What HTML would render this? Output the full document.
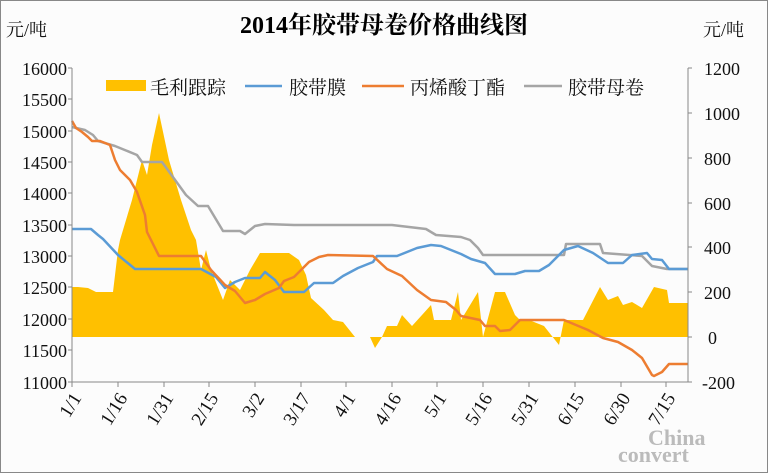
<!DOCTYPE html>
<html><head><meta charset="utf-8"><style>
body{margin:0;background:#fff}
svg{display:block}
text{font-family:"Liberation Serif","Noto Serif CJK SC",serif}
</style></head><body>
<svg width="768" height="473" viewBox="0 0 768 473" xmlns="http://www.w3.org/2000/svg">
<rect x="0.5" y="0.5" width="767" height="472" fill="#fcfcfc" stroke="#888"/>
<text x="384" y="33" font-size="24" font-weight="bold" text-anchor="middle" fill="#000">2014年胶带母卷价格曲线图</text>
<text x="6" y="36" font-size="18" fill="#111">元/吨</text>
<text x="703" y="36" font-size="18" fill="#111">元/吨</text>
<g font-size="18" fill="#111" text-anchor="end">
<text x="67" y="75">16000</text><text x="67" y="106">15500</text><text x="67" y="138">15000</text><text x="67" y="169">14500</text><text x="67" y="200">14000</text><text x="67" y="232">13500</text><text x="67" y="263">13000</text><text x="67" y="294">12500</text><text x="67" y="326">12000</text><text x="67" y="357">11500</text><text x="67" y="389">11000</text>
</g>
<g font-size="18" fill="#111">
<text x="704" y="75">1200</text><text x="704" y="120">1000</text><text x="704" y="165">800</text><text x="704" y="210">600</text><text x="704" y="254">400</text><text x="704" y="299">200</text><text x="708" y="344">0</text><text x="702" y="389">-200</text>
</g>
<polygon fill="#FFC000" points="72,337 72,287 78,287 88,288 96,292 113,292 118,250 120,240 132,200 142,160 147,175 152,145 159,113 169,160 181,200 191,230 196,240 201,270 206,250 211,270 223,300 230,280 240,290 250,270 260,253 275,253 289,253 299,260 306,275 311,298 324,310 333,320 343,322 355,337 370,337 375,348 382,337 387,326 397,326 402,315 412,326 422,315 431,305 434,320 451,320 458,292 461,320 478,292 483,337 495,292 505,292 515,315 520,320 529,320 544,326 559,345 564,320 583,320 600,287 608,300 618,296 623,305 632,302 642,308 654,287 667,290 669,303 688,303 688,337"/>
<g fill="none" stroke-width="2.5" stroke-linejoin="round">
<polyline stroke="#A5A5A5" points="72,127 85,130 93,135 98,141 115,146 137,155 142,162 162,162 186,195 198,206 208,206 223,231 240,231 245,234 255,226 265,224 294,225 392,225 426,229 436,235 461,237 470,240 478,248 483,255 564,255 566,244 600,244 603,253 642,256 652,266 667,269 688,269"/>
<polyline stroke="#5B9BD5" points="72,229 91,229 98,235 103,239 118,255 135,269 201,269 216,277 225,288 235,282 245,278 260,278 265,272 275,280 284,292 304,292 314,283 333,283 343,276 358,268 373,262 377,256 397,256 417,248 431,245 441,246 461,254 471,259 485,263 495,274 515,274 525,271 539,271 549,265 564,250 578,246 593,253 608,263 623,263 632,255 647,253 652,259 662,260 669,269 688,269"/>
<polyline stroke="#ED7D31" points="72,121 76,128 82,132 88,137 92,141 100,141 110,145 115,160 120,170 130,180 137,192 145,215 147,232 159,256 201,256 211,270 225,285 235,291 245,303 255,300 265,294 279,288 284,281 294,277 309,262 319,257 328,255 373,256 387,269 402,276 417,290 431,300 446,302 456,310 461,316 480,320 485,326 495,326 500,331 510,330 520,320 564,320 588,330 603,338 618,342 632,350 642,358 652,375 654,376 662,372 669,364 688,364"/>
</g>
<g stroke="#888" stroke-width="1">
<line x1="72" y1="68" x2="72" y2="382"/><line x1="688" y1="68" x2="688" y2="382"/><line x1="72" y1="382" x2="688" y2="382"/>
<path d="M68 68h4M68 99h4M68 131h4M68 162h4M68 193h4M68 225h4M68 256h4M68 287h4M68 319h4M68 350h4M68 382h4M688 68h4M688 113h4M688 158h4M688 203h4M688 247h4M688 292h4M688 337h4M688 382h4"/>
<path d="M72 382v5M118 382v5M164 382v5M209 382v5M255 382v5M301 382v5M346 382v5M392 382v5M437 382v5M483 382v5M529 382v5M575 382v5M621 382v5M666 382v5"/>
</g>
<g font-size="19" fill="#111" text-anchor="end">
<text transform="translate(82,398) rotate(-58)">1/1</text>
<text transform="translate(128,398) rotate(-58)">1/16</text>
<text transform="translate(174,398) rotate(-58)">1/31</text>
<text transform="translate(219,398) rotate(-58)">2/15</text>
<text transform="translate(265,398) rotate(-58)">3/2</text>
<text transform="translate(311,398) rotate(-58)">3/17</text>
<text transform="translate(356,398) rotate(-58)">4/1</text>
<text transform="translate(402,398) rotate(-58)">4/16</text>
<text transform="translate(447,398) rotate(-58)">5/1</text>
<text transform="translate(493,398) rotate(-58)">5/16</text>
<text transform="translate(539,398) rotate(-58)">5/31</text>
<text transform="translate(585,398) rotate(-58)">6/15</text>
<text transform="translate(631,398) rotate(-58)">6/30</text>
<text transform="translate(676,398) rotate(-58)">7/15</text>
</g>
<rect x="106" y="80" width="40" height="11" fill="#FFC000"/>
<g font-size="19" fill="#111" style="font-family:'Liberation Sans','Noto Sans CJK SC',sans-serif">
<text x="150" y="94">毛利跟踪</text>
<line x1="245" y1="86" x2="282" y2="86" stroke="#5B9BD5" stroke-width="2.5"/>
<text x="289" y="94">胶带膜</text>
<line x1="362" y1="86" x2="404" y2="86" stroke="#ED7D31" stroke-width="2.5"/>
<text x="410" y="94">丙烯酸丁酯</text>
<line x1="524" y1="86" x2="562" y2="86" stroke="#A5A5A5" stroke-width="2.5"/>
<text x="568" y="94">胶带母卷</text>
</g>
<g font-size="22" font-weight="bold" fill="#bbb" style="font-family:'Liberation Sans',sans-serif">
<text x="648" y="445">China</text>
<text x="618" y="462">convert</text>
</g>
</svg>
</body></html>
